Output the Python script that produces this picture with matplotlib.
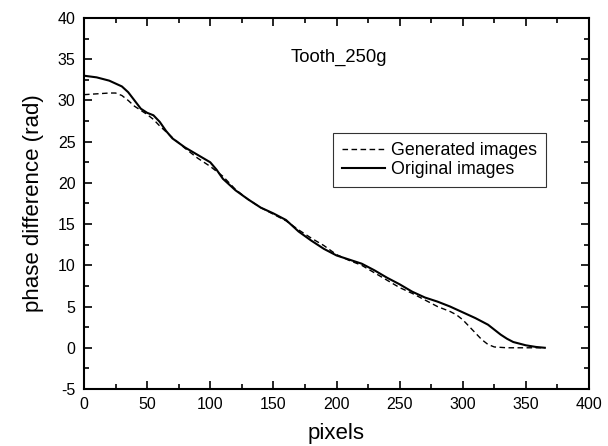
import matplotlib.pyplot as plt
from matplotlib.ticker import MultipleLocator

plt.rcParams['font.family'] = ['Liberation Sans', 'DejaVu Sans']
plt.rcParams['axes.unicode_minus'] = False

# Original images
x_orig = [0, 10, 20, 30, 35, 40, 45, 50, 55, 60, 65, 70, 80, 90, 100, 105, 110,
          120, 130, 140, 150, 160, 165, 170, 180, 190, 200, 210, 220, 230, 240,
          250, 260, 270, 280, 290, 300, 310, 320, 325, 330, 335, 340, 350, 358, 365]
y_orig = [33.0, 32.8, 32.4, 31.7, 31.0, 30.0, 29.0, 28.5, 28.2, 27.4, 26.3, 25.4,
          24.3, 23.4, 22.5, 21.6, 20.5, 19.1, 18.0, 17.0, 16.3, 15.5, 14.8, 14.1,
          13.0, 12.0, 11.2, 10.7, 10.2, 9.4, 8.5, 7.7, 6.8, 6.1, 5.6, 5.0, 4.3,
          3.6, 2.8, 2.2, 1.6, 1.1, 0.7, 0.3, 0.1, 0.0]

# Generated images
x_gen = [0, 10, 20, 25, 30, 35, 40, 45, 50, 55, 60, 70, 80, 90, 100, 110, 120,
         130, 140, 150, 160, 170, 180, 190, 200, 210, 220, 230, 240, 250, 260,
         270, 280, 290, 295, 300, 305, 310, 315, 320, 325, 335, 350, 365]
y_gen = [30.7, 30.8, 30.9, 30.9, 30.6, 30.0, 29.3, 28.8, 28.3, 27.7, 26.9, 25.5,
         24.2, 23.0, 22.0, 20.8, 19.2, 18.0, 17.0, 16.2, 15.4, 14.3, 13.3, 12.4,
         11.3, 10.6, 10.0, 9.1, 8.2, 7.3, 6.6, 5.8, 5.0, 4.4, 4.0, 3.4, 2.6, 1.8,
         1.0, 0.4, 0.1, 0.0, 0.0, 0.0]

fig = plt.figure(figsize=(6.08, 4.46), dpi=100)
ax = fig.add_axes([84 / 608, 1 - 389 / 446, 505 / 608, 371 / 446])

ax.plot(x_gen, y_gen, color='black', linestyle=(0, (4, 2.5)), linewidth=1.0,
        label='Generated images')
ax.plot(x_orig, y_orig, color='black', linewidth=1.5, label='Original images')

ax.set_xlim(0, 400)
ax.set_ylim(-5, 40)
ax.xaxis.set_major_locator(MultipleLocator(50))
ax.xaxis.set_minor_locator(MultipleLocator(25))
ax.yaxis.set_major_locator(MultipleLocator(5))
ax.yaxis.set_minor_locator(MultipleLocator(2.5))
ax.tick_params(which='both', direction='in', top=True, right=True,
               labelsize=11.5, width=1.2, pad=6)
ax.tick_params(which='major', length=6)
ax.tick_params(which='minor', length=3.5)
for s in ax.spines.values():
    s.set_linewidth(1.5)

ax.set_xlabel('pixels', fontsize=16, labelpad=8)
ax.set_ylabel('phase difference (rad)', fontsize=16, labelpad=10)
ax.text(202, 35.2, 'Tooth_250g', fontsize=13.3, ha='center', va='center')

leg = ax.legend(loc='upper left', bbox_to_anchor=(0.493, 0.69), fontsize=12.8,
                frameon=True, fancybox=False, edgecolor='black',
                handlelength=2.4, borderpad=0.5, labelspacing=0.12,
                handletextpad=0.35, borderaxespad=0)
leg.get_frame().set_linewidth(0.8)

fig.savefig('out.png', dpi=100)
